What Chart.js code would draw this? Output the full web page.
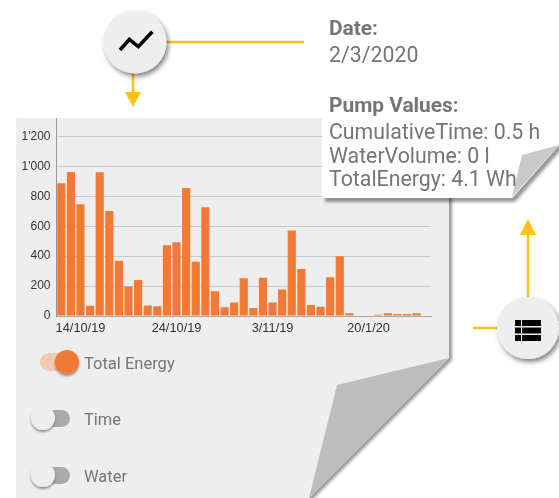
<!DOCTYPE html>
<html>
<head>
<meta charset="utf-8">
<script src="https://cdn.jsdelivr.net/npm/chart.js@4"></script>
<style>
  html, body { margin: 0; padding: 0; background: #fff; overflow: hidden; }
  #stage { position: relative; width: 559px; height: 498px; font-family: Roboto, sans-serif; }
  svg { position: absolute; left: 0; top: 0; }
  #chartBox { position: absolute; left: 16px; top: 118px; width: 433px; height: 218px; }
  .txt { position: absolute; color: #757575; font-size: 21.3px; line-height: 22px; white-space: nowrap; }
  .bold { font-weight: 700; font-size: 20.9px; }
  .toggle { font-size: 16.5px; left: 84px; }
</style>
</head>
<body>
<div id="stage">
  <svg width="559" height="498">
    <defs>
      <filter id="sh" x="-20%" y="-20%" width="150%" height="150%">
        <feDropShadow dx="3" dy="2" stdDeviation="1.5" flood-color="#000" flood-opacity="0.4"/>
      </filter>
    </defs>
    <polygon points="16,118 449,118 449,358 309,498 16,498" fill="#eeeeee" filter="url(#sh)"/>
    <polygon points="449,358 337,385 309,498" fill="#bdbdbd"/>
    <rect x="40" y="353" width="32" height="18" rx="9" fill="#f3c9b0"/>
    <rect x="45" y="410" width="25" height="17" rx="8.5" fill="#a9a9a9"/>
    <rect x="45" y="467" width="25" height="17" rx="8.5" fill="#a9a9a9"/>
  </svg>

  <div id="chartBox"><canvas id="energyChart"></canvas></div>

  <svg width="559" height="498">
    <defs>
      <filter id="sh2" x="-30%" y="-30%" width="170%" height="170%">
        <feDropShadow dx="2" dy="3" stdDeviation="2.5" flood-color="#000" flood-opacity="0.5"/>
      </filter>
      <filter id="sh3" x="-50%" y="-50%" width="200%" height="200%">
        <feDropShadow dx="0" dy="2" stdDeviation="1.2" flood-color="#000" flood-opacity="0.4"/>
      </filter>
      <filter id="sh4" x="-10%" y="-10%" width="120%" height="125%">
        <feDropShadow dx="3" dy="4" stdDeviation="1.5" flood-color="#000" flood-opacity="0.4"/>
      </filter>
    </defs>

    <!-- connector lines -->
    <g stroke="#ffc114" stroke-width="2.5" fill="none">
      <line x1="160" y1="42" x2="304" y2="42"/>
      <line x1="133" y1="70" x2="133" y2="94"/>
      <line x1="473" y1="328" x2="500" y2="328"/>
      <line x1="528" y1="300" x2="528" y2="234"/>
    </g>
    <polygon points="125,92 141,92 133,107" fill="#ffc114"/>
    <polygon points="520,235 536,235 528,219" fill="#ffc114"/>

    <!-- round buttons -->
    <circle cx="135" cy="42" r="31.5" fill="#eeeeee" filter="url(#sh2)"/>
    <polyline points="120,50 129.3,39.5 138.3,46.7 152.3,31.7" fill="none" stroke="#000" stroke-width="3.5"/>
    <circle cx="528" cy="328" r="31" fill="#eeeeee" filter="url(#sh2)"/>
    <g fill="#000">
      <rect x="515" y="320" width="6" height="6"/>
      <rect x="522" y="320" width="19" height="6"/>
      <rect x="515" y="327.5" width="6" height="6"/>
      <rect x="522" y="327.5" width="19" height="6"/>
      <rect x="515" y="335" width="6" height="6"/>
      <rect x="522" y="335" width="19" height="6"/>
    </g>

    <!-- toggle thumbs -->
    <circle cx="67" cy="362" r="12" fill="#ef7a35" filter="url(#sh3)"/>
    <circle cx="43" cy="418" r="12" fill="#eeeeee" filter="url(#sh3)"/>
    <circle cx="43" cy="475" r="12" fill="#eeeeee" filter="url(#sh3)"/>

    <!-- info card -->
    <polygon points="322,10 559,10 559,145 512,198 322,198" fill="#ffffff" filter="url(#sh4)"/>
    <polygon points="559,145 522,155 512,197" fill="#c9c9c9"/>
  </svg>

  <div class="txt bold" style="left:329px;top:17px">Date:</div>
  <div class="txt" style="left:329px;top:44px">2/3/2020</div>
  <div class="txt bold" style="left:329px;top:94px">Pump Values:</div>
  <div class="txt" style="left:329px;top:121px">CumulativeTime: 0.5 h</div>
  <div class="txt" style="left:329px;top:145px">WaterVolume: 0 l</div>
  <div class="txt" style="left:329px;top:168px">TotalEnergy: 4.1 Wh</div>

  <div class="txt toggle" style="top:353px">Total Energy</div>
  <div class="txt toggle" style="top:409px">Time</div>
  <div class="txt toggle" style="top:466px">Water</div>
</div>

<script>
const dayLabels = ['', '', '14/10/19', '', '', '', '', '', '', '', '', '', '24/10/19', '', '', '', '', '', '', '',
  '', '', '3/11/19', '', '', '', '', '', '', '', '', '', '20/1/20', '', '', '', '', '', ''];
const totalEnergy = [887, 963, 747, 69, 961, 702, 370, 198, 241, 71, 65, 473, 493, 856, 363, 727, 165, 58, 91, 252,
  54, 256, 91, 178, 571, 314, 74, 62, 259, 399, 18, 0, 0, 9, 18, 13, 13, 18, 4];
const yMax = 1324;
const yStep = 200;

function fmtTick(v) {
  return v >= 1000 ? `${Math.floor(v / 1000)}'${String(v % 1000).padStart(3, '0')}` : String(v);
}

new Chart(document.getElementById('energyChart'), {
  type: 'bar',
  data: {
    labels: dayLabels,
    datasets: [{
      label: 'Total Energy',
      data: totalEnergy,
      backgroundColor: '#f37a35',
      borderWidth: 0,
      barPercentage: 0.85,
      categoryPercentage: 1
    }]
  },
  options: {
    responsive: true,
    maintainAspectRatio: false,
    animation: false,
    layout: { padding: { left: 0, right: 18, top: 0, bottom: 0 } },
    plugins: { legend: { display: false }, tooltip: { enabled: false } },
    scales: {
      x: {
        grid: { display: false, drawTicks: false },
        border: { color: '#a8a8a8', width: 1 },
        afterFit: (axis) => { axis.height = 20; axis.paddingLeft = 0; axis.paddingRight = 0; },
        ticks: {
          autoSkip: false,
          maxRotation: 0,
          minRotation: 0,
          padding: 5,
          color: '#333333',
          font: { family: 'Liberation Sans', size: 12.8 }
        }
      },
      y: {
        min: 0,
        max: yMax,
        grid: { color: '#c8c8c8', lineWidth: 1, drawTicks: false },
        border: { color: '#9a9a9a', width: 1 },
        afterFit: (axis) => { axis.width = 40.5; axis.paddingTop = 0; axis.paddingBottom = 0; },
        ticks: {
          stepSize: yStep,
          includeBounds: false,
          padding: 6,
          color: '#333333',
          font: { family: 'Liberation Sans', size: 12 },
          callback: (v) => fmtTick(v)
        }
      }
    }
  }
});
</script>
</body>
</html>
